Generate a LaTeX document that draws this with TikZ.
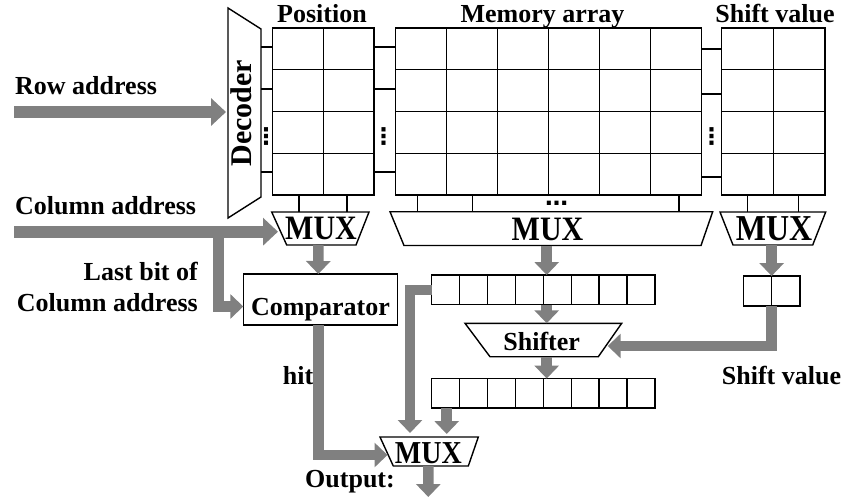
\documentclass[tikz,border=0pt]{standalone}
\usepackage{fontspec}
\setmainfont{Liberation Serif}
\newfontfamily\dejavu{DejaVu Sans}
\usetikzlibrary{arrows.meta,calc}
\definecolor{busgray}{RGB}{128,128,128}
\begin{document}
\begin{tikzpicture}[x=1pt,y=-1pt,
  blk/.style={draw=black, line width=1.4pt},
  box/.style={rectangle, inner sep=0pt, outer sep=0pt},
  frame/.style={box, draw=black, line width=1.4pt},
  lab/.style={inner sep=0pt, font=\fontsize{26}{30}\selectfont\bfseries},
  muxlab/.style={inner sep=0pt, anchor=base, yscale=1.14, font=\fontsize{30}{34}\selectfont\bfseries},
  dotlab/.style={inner sep=0pt, font=\dejavu\bfseries\fontsize{23}{25}\selectfont},
  bus/.style={draw=busgray, line width=10.5pt, -{Triangle[length=13pt,width=24pt]}},
  bigbus/.style={draw=busgray, line width=12pt, -{Triangle[length=15pt,width=27pt]}},
]
\useasboundingbox (0,0) rectangle (846,498);

% ---------- arrays ----------
\node[frame, minimum width=101.3pt, minimum height=167pt] (pos) at (323.35,111.5) {};
\node[frame, minimum width=306pt, minimum height=167pt] (mem) at (548.7,111.5) {};
\node[frame, minimum width=103.3pt, minimum height=167pt] (shv) at (773.35,111.5) {};
\foreach \n/\c in {pos/2,mem/6,shv/2} {
  \foreach \i in {1,2,3} {
    \pgfmathsetmacro\f{\i/4}
    \draw[blk] ($(\n.north west)!\f!(\n.south west)$) -- ($(\n.north east)!\f!(\n.south east)$);
  }
  \pgfmathtruncatemacro\cm{\c-1}
  \foreach \j in {1,...,\cm} {
    \pgfmathsetmacro\g{\j/\c}
    \draw[blk] ($(\n.north west)!\g!(\n.north east)$) -- ($(\n.south west)!\g!(\n.south east)$);
  }
}

% ---------- registers ----------
\node[frame, minimum width=223.3pt, minimum height=29.5pt] (reg1) at (543.35,289.75) {};
\node[frame, minimum width=223.3pt, minimum height=29.5pt] (reg2) at (543.35,393.3) {};
\node[frame, minimum width=56.7pt, minimum height=30pt] (sreg) at (771.65,291) {};
\foreach \n/\c in {reg1/8,reg2/8,sreg/2} {
  \pgfmathtruncatemacro\cm{\c-1}
  \foreach \j in {1,...,\cm} {
    \pgfmathsetmacro\g{\j/\c}
    \draw[blk] ($(\n.north west)!\g!(\n.north east)$) -- ($(\n.south west)!\g!(\n.south east)$);
  }
}

% ---------- decoder ----------
\node[box, minimum width=33pt, minimum height=210pt] (dec) at (244.5,113) {};
\draw[blk] (dec.north west) -- ($(dec.north east)+(0,21)$) -- ($(dec.south east)+(0,-21)$) -- (dec.south west) -- cycle;
\node[inner sep=0pt, font=\fontsize{30}{34}\selectfont\bfseries, rotate=90, anchor=base] (declab) at (251.5,113) {Decoder};

% ---------- MUXes and shifter ----------
\node[box, minimum width=97.3pt, minimum height=33pt] (muxp) at (320.35,228.5) {};
\draw[blk] (muxp.north west) -- (muxp.north east) -- ($(muxp.south east)+(-13,0)$) -- ($(muxp.south west)+(15,0)$) -- cycle;
\node[muxlab] (muxplab) at (321,239.5) {MUX};

\node[box, minimum width=322.7pt, minimum height=33.8pt] (muxm) at (551.35,228.6) {};
\draw[blk] (muxm.north west) -- (muxm.north east) -- ($(muxm.south east)+(-11.7,0)$) -- ($(muxm.south west)+(14,0)$) -- cycle;
\node[muxlab] (muxmlab) at (547.5,240.7) {MUX};

\node[box, minimum width=105.7pt, minimum height=33pt] (muxs) at (772.85,228.5) {};
\draw[blk] (muxs.north west) -- (muxs.north east) -- ($(muxs.south east)+(-13,0)$) -- ($(muxs.south west)+(13,0)$) -- cycle;
\node[muxlab, font=\fontsize{32}{36}\selectfont\bfseries] (muxslab) at (774,240.7) {MUX};

\node[box, minimum width=98.3pt, minimum height=29pt] (muxo) at (429.15,451.5) {};
\draw[blk] (muxo.north west) -- (muxo.north east) -- ($(muxo.south east)+(-10,0)$) -- ($(muxo.south west)+(13.3,0)$) -- cycle;
\node[muxlab, font=\fontsize{28}{32}\selectfont\bfseries] (muxolab) at (428.3,463.3) {MUX};

\node[box, minimum width=156.7pt, minimum height=33.4pt] (shifter) at (543.35,340) {};
\draw[blk] (shifter.north west) -- (shifter.north east) -- ($(shifter.south east)+(-23.4,0)$) -- ($(shifter.south west)+(25,0)$) -- cycle;
\node[lab, anchor=base] (shiftlab) at (541.7,350) {Shifter};

\node[frame, minimum width=154.4pt, minimum height=51pt] (comp) at (320.5,299.5) {};
\node[lab, anchor=base] (complab) at (320.5,315) {Comparator};

% ---------- word lines / bit lines ----------
\foreach \y in {47,89,172} \draw[blk] (dec.east |- 0,\y) -- (pos.west |- 0,\y);
\foreach \y in {47,89,172} \draw[blk] (pos.east |- 0,\y) -- (mem.west |- 0,\y);
\foreach \y in {49,94,177} \draw[blk] (mem.east |- 0,\y) -- (shv.west |- 0,\y);
\foreach \x in {299,347} \draw[blk] (\x,0 |- pos.south) -- (\x,0 |- muxp.north);
\foreach \x in {417.3,472.3,679} \draw[blk] (\x,0 |- mem.south) -- (\x,0 |- muxm.north);
\foreach \x in {747.7,798.3} \draw[blk] (\x,0 |- shv.south) -- (\x,0 |- muxs.north);

% dots
\node[dotlab] (d1) at (266,137) {⋮};
\node[dotlab] (d2) at (383.5,137) {⋮};
\node[dotlab] (d3) at (711.7,137) {⋮};
\node[dotlab, anchor=base] (d4) at (556.7,205) {…};

% ---------- titles / labels ----------
\node[lab, anchor=base] (tpos) at (322,22) {Position};
\node[lab, anchor=base] (tmem) at (542.5,22) {Memory array};
\node[lab, anchor=base] (tshv) at (775,22) {Shift value};
\node[lab, anchor=base west] (trow) at (15,94.3) {Row address};
\node[lab, anchor=base west] (tcol) at (15,214.3) {Column address};
\node[lab, anchor=base east] (tlast1) at (198,280) {Last bit of};
\node[lab, anchor=base east] (tlast2) at (198,311) {Column address};
\node[lab, anchor=base west] (thit) at (282.7,384) {hit};
\node[lab, anchor=base west] (tout) at (305,487.3) {Output:};
\node[lab, anchor=base west] (tsv) at (721.7,384) {Shift value};

% ---------- buses ----------
\coordinate (ra) at (14,112);
\draw[bigbus, shorten >=2pt] (ra) -- (ra -| dec.west);
\coordinate (ca) at (14,231.7);
\draw[bigbus, shorten >=-6.3pt] (ca) -- (ca -| muxp.west);
\coordinate (cb) at (218.3,231.7);
\draw[bus] (cb) |- ($(comp.west)+(0,7)$);
\draw[bus] ($(muxp.south)+(-2,0)$) -- ($(comp.north)+(-2.2,0)$);
\draw[bus] ($(comp.south)+(-2.2,0)$) |- ($(muxo.west)+(7.5,3.5)$);
\draw[bus] ($(muxm.south)+(-4.65,0)$) -- ($(reg1.north)+(3.35,0)$);
\draw[bus] ($(reg1.south)+(3.35,0)$) -- ($(shifter.north)+(3.35,0)$);
\draw[bus] ($(shifter.south)+(3.35,0)$) -- ($(reg2.north)+(3.35,0)$);
\draw[bus] (sreg.north |- muxs.south) -- (sreg.north);
\draw[bus] (sreg.south) |- ($(shifter.east)+(-14,6)$);
\draw[bus, shorten >=4pt] (reg1.west) -| ($(muxo.north west)+(30,0)$);
\coordinate (r2o) at ($(reg2.south west)+(15,0)$);
\draw[bus, shorten >=3pt] (r2o) -- (r2o |- muxo.north);
\coordinate (outend) at (428.3,497);
\draw[bus] ($(muxo.south)+(-0.85,0)$) -- (outend);
\end{tikzpicture}
\end{document}
